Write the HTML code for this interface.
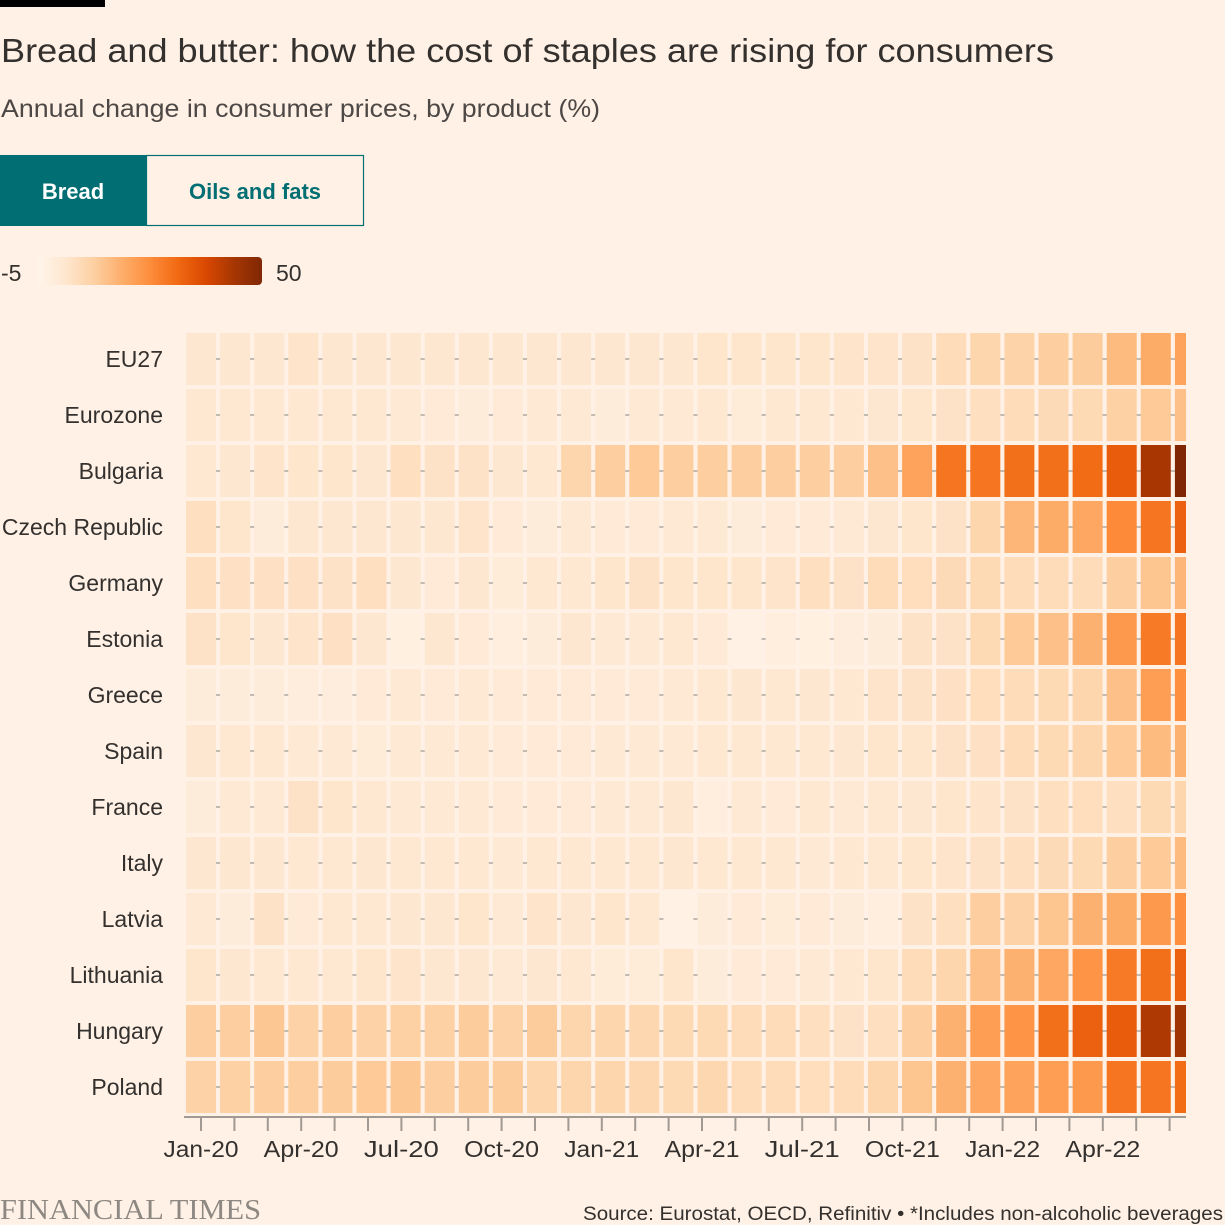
<!DOCTYPE html>
<html><head><meta charset="utf-8">
<style>
html,body{margin:0;padding:0;background:#fff1e5;}
svg{display:block;font-family:"Liberation Sans",sans-serif;}
</style></head>
<body>
<svg id="chart" width="1225" height="1225" viewBox="0 0 1225 1225">
<rect x="0" y="0" width="1225" height="1225" fill="#fff1e5"/>
<rect x="0" y="0" width="105" height="7" fill="#000"/>
<text x="1" y="62" font-size="33" fill="#33302e" textLength="1053" lengthAdjust="spacingAndGlyphs">Bread and butter: how the cost of staples are rising for consumers</text>
<text x="1" y="117" font-size="25" fill="#4d4845" textLength="599" lengthAdjust="spacingAndGlyphs">Annual change in consumer prices, by product (%)</text>
<g>
<rect x="0" y="155" width="146" height="71" fill="#006e73"/>
<text x="73" y="199" font-size="22" font-weight="bold" fill="#fff" text-anchor="middle">Bread</text>
</g>
<g>
<rect x="146.5" y="155.5" width="217" height="70" fill="#fff1e5" stroke="#006e73" stroke-width="1.2"/>
<text x="255" y="199" font-size="22" fill="#006e73" text-anchor="middle" font-weight="bold">Oils and fats</text>
</g>
<defs>
<linearGradient id="lg" x1="0" x2="1" y1="0" y2="0">
<stop offset="0" stop-color="#fff5eb"/><stop offset="0.125" stop-color="#fee6ce"/><stop offset="0.25" stop-color="#fdd0a2"/><stop offset="0.375" stop-color="#fdae6b"/><stop offset="0.5" stop-color="#fd8d3c"/><stop offset="0.625" stop-color="#f16913"/><stop offset="0.75" stop-color="#d94801"/><stop offset="0.875" stop-color="#a63603"/><stop offset="1" stop-color="#7f2704"/>
</linearGradient>
</defs>
<text x="1" y="281" font-size="23" fill="#33302e">-5</text>
<rect x="38" y="257" width="224" height="28" rx="4" fill="url(#lg)"/>
<text x="276" y="281" font-size="23" fill="#33302e">50</text>
<g id="plot"></g>
<text x="0" y="1219" font-family="Liberation Serif, serif" font-size="28" fill="#8e8883" textLength="261" lengthAdjust="spacingAndGlyphs">FINANCIAL TIMES</text>
<text x="1223" y="1220" font-size="19" fill="#33302e" text-anchor="end" textLength="640" lengthAdjust="spacingAndGlyphs">Source: Eurostat, OECD, Refinitiv • *Includes non-alcoholic beverages</text>
</svg>
<script>
const countries = ["EU27","Eurozone","Bulgaria","Czech Republic","Germany","Estonia","Greece","Spain","France","Italy","Latvia","Lithuania","Hungary","Poland"];
const months = ["Jan-20","Feb-20","Mar-20","Apr-20","May-20","Jun-20","Jul-20","Aug-20","Sep-20","Oct-20","Nov-20","Dec-20","Jan-21","Feb-21","Mar-21","Apr-21","May-21","Jun-21","Jul-21","Aug-21","Sep-21","Oct-21","Nov-21","Dec-21","Jan-22","Feb-22","Mar-22","Apr-22","May-22","Jun-22"];
const tickLabels = ["Jan-20","Apr-20","Jul-20","Oct-20","Jan-21","Apr-21","Jul-21","Oct-21","Jan-22","Apr-22"];
const colorDomain = [-5, 50];
const valsEU27 = [1.5,1.5,1.5,2.5,1.5,1.5,1.5,1.5,1.5,1.2,1.2,1.2,1.2,1.2,1.2, 2,2,2,2,2.5,2.5,3,5,7,7.5,9,9.5,13,16,18];
const valsEurozone = [1,1,1,1,1,1,0.5,0,-1,0,0.5,0.5,-1,0.5,0.5, 1,-0.5,1,1,1,1.5,2,3,4,5,5.5,6,8.5,10,12];
const valsBulgaria = [1,1.5,2.5,2,2,1.5,4,3,3,1.5,1,7,9,10,9, 9,9,9,9,9,12,18,27,27,28,28,29,32,43,50];
const valsCzech = [4,2,-1,1.5,1.5,1.5,1.5,1.5,2.5,0,-1,0.5,0,0,0.5, 0.5,-1,0,0,0.5,1.5,2,3,7,14,16,17,23,27,31];
const valsGermany = [4,3.5,3.5,3.5,3,4,1.5,0,1.5,-0.5,1,1,2,3,2, 2,2,2.5,4,3,5,4.5,5.5,6,5,5,5,9,11,14];
const valsEstonia = [3,2,1.5,2.5,3.5,1.5,-2.5,1.5,0,-2,-1,1.5,0.5,0.5,1, 0,-3,-2,-2.5,-1.5,-1,3,3,6,10,12,15,20,26,27];
const valsGreece = [-1,-1,-1,-1.5,-1.5,0,0.5,0,0.5,0,0,0,0,0,0.5, 1,1.5,1,1.5,1,2.5,3,3.5,4.5,5,6,7,12,19,22];
const valsSpain = [1.5,1,1,0.5,0.5,-0.5,0.5,0.5,0.5,0,0,0,0.5,0.5,0.5, 1,1,1,1,1.5,2,2,3,3.5,5,6,7,10,13,15];
const valsFrance = [-1,0.5,0.5,3,2,1,0.5,0.5,0.5,0,0,0,0.5,0.5,1.5, -2,0.5,0,1,0.5,1,1.5,2,2.5,3,4,4.5,4,6,7];
const valsItaly = [1.5,1.5,1.5,1,1,1.5,1,1,1,0.5,1,1,1,1,1.5, 1,1,1,0.5,1,1,2,2.5,3,4,5.5,6,9,10,13];
const valsLatvia = [0.5,-1,3,0,1,1,1.5,1.5,2,0.5,2.5,1.5,2,1,-3, -1,0,-0.5,0,-1,-2,3,4,9,8,11,15,16,20,22];
const valsLithuania = [2,1.5,1,1,1,2,2.5,1.5,1.5,0.5,1.5,1,-0.5,-0.5,2, -1,0,0,0.5,1,2,5,7,12,15,17,21,26,28,31];
const valsHungary = [9,9,10.5,8,9,8,8.5,8.5,9.5,8,9.5,7,7,6.5,6, 6,5,5,4,3,4,9,15,19,21,28,31,32,42,44];
const valsPoland = [8,8.5,9,9,9.5,10,10.5,9,9.5,9.5,7,7,7,6.5,6, 6.5,5,5,4.5,5,7,11,15,17,18,19,20,27,27,29];
const seriesValues = [valsEU27,valsEurozone,valsBulgaria,valsCzech,valsGermany,valsEstonia,valsGreece,valsSpain,valsFrance,valsItaly,valsLatvia,valsLithuania,valsHungary,valsPoland];

const NS = "http://www.w3.org/2000/svg";
const plotL = 186, plotR = 1186, plotT = 333, rowStep = 56, cellH = 52, colStep = 34.1, cellW = 30;
const tickStep = 33.4, tickX0 = 201;
function xCell(i){ return plotL + i*colStep; }
function xTick(i){ return tickX0 + i*tickStep; }
function yRow(r){ return plotT + r*rowStep; }
const stops = ["#fff5eb","#fee6ce","#fdd0a2","#fdae6b","#fd8d3c","#f16913","#d94801","#a63603","#7f2704"].map(h=>[parseInt(h.substr(1,2),16),parseInt(h.substr(3,2),16),parseInt(h.substr(5,2),16)]);
function color(v){
  let t = (v - colorDomain[0])/(colorDomain[1]-colorDomain[0]);
  t = Math.max(0, Math.min(1, t));
  const s = t*(stops.length-1), k = Math.min(stops.length-2, Math.floor(s)), f = s-k;
  const c = stops[k].map((a,j)=>Math.round(a+(stops[k+1][j]-a)*f));
  return "rgb("+c.join(",")+")";
}
function mk(tag, attrs, parent){
  const e = document.createElementNS(NS, tag);
  for (const k in attrs) e.setAttribute(k, attrs[k]);
  parent.appendChild(e);
  return e;
}
const plot = document.getElementById("plot");
const defs = mk("defs", {}, plot);
const cp = mk("clipPath", {id:"clip"}, defs);
mk("rect", {x:plotL, y:0, width:plotR-plotL, height:1225}, cp);

countries.forEach((c, r) => {
  const ln = mk("line", {x1:plotL, x2:plotR, y1:yRow(r)+cellH/2, y2:yRow(r)+cellH/2, stroke:"#c2bbb4", "stroke-width":2}, plot);
  
  
  const lab = mk("text", {x:163, y:yRow(r)+cellH/2+8, "font-size":23, fill:"#33302e", "text-anchor":"end"}, plot);
  lab.textContent = c;
  
  
});
const cells = mk("g", {"clip-path":"url(#clip)"}, plot);
seriesValues.forEach((row, r) => {
  row.forEach((v, i) => {
    const rc = mk("rect", {x:xCell(i), y:yRow(r), width:cellW, height:cellH, fill:color(v)}, cells);
    
    
    const tt = mk("title", {}, rc);
    tt.textContent = countries[r] + " " + months[i] + ": " + v + "%";
  });
});
const ax = mk("line", {x1:plotL-2, x2:plotR, y1:1117, y2:1117, stroke:"#a19a94", "stroke-width":2}, plot);


months.forEach((m, i) => {
  const tk = mk("line", {x1:xTick(i), x2:xTick(i), y1:1117, y2:1131, stroke:"#a19a94", "stroke-width":2}, plot);
  
  
  if (tickLabels.indexOf(m) >= 0) {
    const tl = mk("text", {x:xTick(i), y:1157, "font-size":23, fill:"#33302e", "text-anchor":"middle", textLength:75, lengthAdjust:"spacingAndGlyphs"}, plot);
    tl.textContent = m;
    
    
  }
});
</script>
</body></html>
